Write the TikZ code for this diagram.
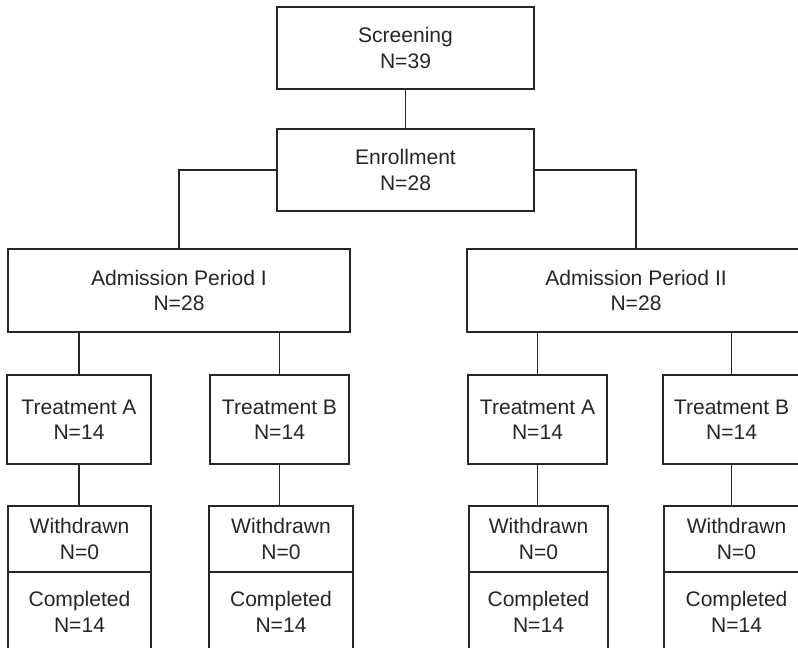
\documentclass[tikz,border=0pt]{standalone}
\usepackage{fontspec}
\setmainfont{Liberation Sans}
\definecolor{ink}{HTML}{262626}
\def\pxu{0.75pt}
\tikzset{
  box/.style={draw=ink, line width=1pt, rectangle, inner sep=0pt, align=center,
    text=ink, font=\fontsize{15.8}{19}\selectfont},
  conn/.style={draw=ink, line width=1pt}
}
\newcommand\bxnode[6]{%
  \node[box, minimum width={(#4-#2)*\pxu}, minimum height={(#5-#3)*\pxu}]
    (#1) at ({(#2+#4)/2},{(#3+#5)/2}) {#6};}
\begin{document}
\begin{tikzpicture}[x=0.75pt,y=-0.75pt]
\useasboundingbox (0,0) rectangle (798,648);
\clip (0,0) rectangle (798,648);
\bxnode{scr}{277}{7}{534}{89}{Screening\\N=39}
\bxnode{enr}{277}{129}{534}{211}{Enrollment\\N=28}
\bxnode{adma}{8}{249}{350}{332}{Admission Period I\\N=28}
\bxnode{admb}{467}{249}{805}{332}{Admission Period II\\N=28}
\bxnode{taa}{7}{375}{151}{464}{Treatment A\\N=14}
\bxnode{tba}{210}{375}{349}{464}{Treatment B\\N=14}
\bxnode{tab}{468}{375}{607}{464}{Treatment A\\N=14}
\bxnode{tbb}{663}{375}{800}{464}{Treatment B\\N=14}
\bxnode{waa}{8}{506}{151}{572}{Withdrawn\\N=0}
\bxnode{caa}{8}{572}{151}{652}{Completed\\N=14}
\bxnode{wba}{209}{506}{353}{572}{Withdrawn\\N=0}
\bxnode{cba}{209}{572}{353}{652}{Completed\\N=14}
\bxnode{wab}{469}{506}{608}{572}{Withdrawn\\N=0}
\bxnode{cab}{469}{572}{608}{652}{Completed\\N=14}
\bxnode{wbb}{664}{506}{809}{572}{Withdrawn\\N=0}
\bxnode{cbb}{664}{572}{809}{652}{Completed\\N=14}
\draw[conn] (scr.south) -- (enr.north);
\draw[conn] (enr.west) -| (adma.north);
\draw[conn] (enr.east) -| (admb.north);
\draw[conn] (taa.north) -- (taa.north |- adma.south);
\draw[conn] (tba.north) -- (tba.north |- adma.south);
\draw[conn] (tab.north) -- (tab.north |- admb.south);
\draw[conn] (tbb.north) -- (tbb.north |- admb.south);
\draw[conn] (taa.south) -- (taa.south |- waa.north);
\draw[conn] (tba.south) -- (tba.south |- wba.north);
\draw[conn] (tab.south) -- (tab.south |- wab.north);
\draw[conn] (tbb.south) -- (tbb.south |- wbb.north);
\end{tikzpicture}
\end{document}
